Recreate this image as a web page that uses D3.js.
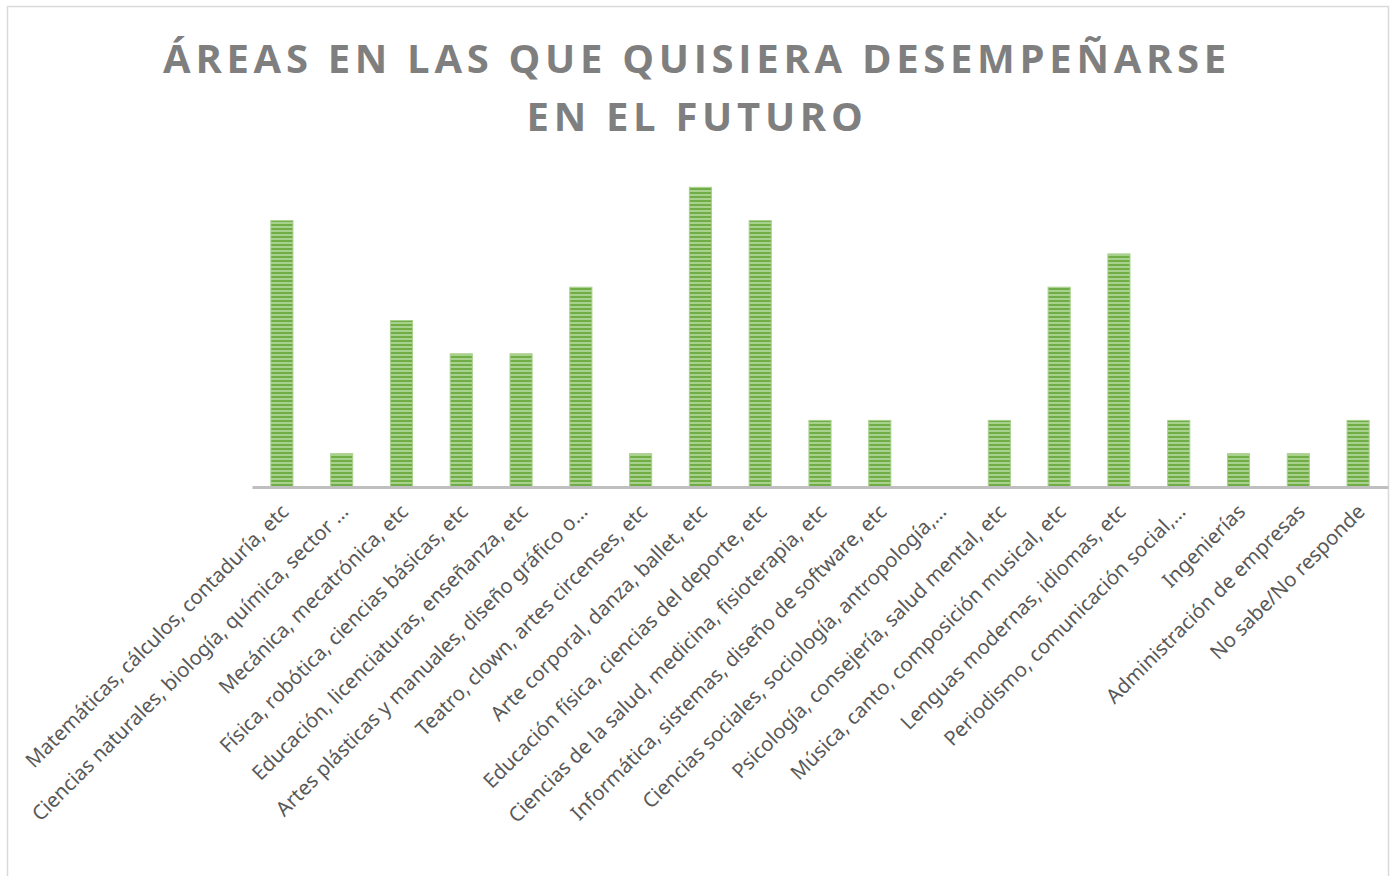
<!DOCTYPE html>
<html><head><meta charset="utf-8">
<script src="https://cdn.jsdelivr.net/npm/d3@7"></script>
<style>
html,body{margin:0;padding:0;background:#fff;}
svg{display:block;}
</style></head>
<body>
<script>
const categories = [
  "Matemáticas, cálculos, contaduría, etc",
  "Ciencias naturales, biología, química, sector …",
  "Mecánica, mecatrónica, etc",
  "Física, robótica, ciencias básicas, etc",
  "Educación, licenciaturas, enseñanza, etc",
  "Artes plásticas y manuales, diseño gráfico o…",
  "Teatro, clown, artes circenses, etc",
  "Arte corporal, danza, ballet, etc",
  "Educación física, ciencias del deporte, etc",
  "Ciencias de la salud, medicina, fisioterapia, etc",
  "Informática, sistemas, diseño de software, etc",
  "Ciencias sociales, sociología, antropología,…",
  "Psicología, consejería, salud mental, etc",
  "Música, canto, composición musical, etc",
  "Lenguas modernas, idiomas, etc",
  "Periodismo, comunicación social,…",
  "Ingenierías",
  "Administración de empresas",
  "No sabe/No responde"
];
const values = [8, 1, 5, 4, 4, 6, 1, 9, 8, 2, 2, 0, 2, 6, 7, 2, 1, 1, 2];
const titleLines = ["ÁREAS EN LAS QUE QUISIERA DESEMPEÑARSE", "EN EL FUTURO"];

const W = 1393, H = 876;
const svg = d3.select("body").append("svg").attr("width", W).attr("height", H);

// pattern
const defs = svg.append("defs");
const pat = defs.append("pattern").attr("id", "stripes")
  .attr("patternUnits", "userSpaceOnUse").attr("width", 8).attr("height", 4);
pat.append("rect").attr("width", 8).attr("height", 4).attr("fill", "#A9D18E");
pat.append("rect").attr("width", 8).attr("height", 2).attr("fill", "#70AD47");

// frame
svg.append("rect").attr("x", 7.5).attr("y", 6.5).attr("width", 1381).attr("height", 880)
  .attr("fill", "none").attr("stroke", "#D9D9D9").attr("stroke-width", 1.5);

// title
const title = svg.append("text").attr("text-anchor", "middle")
  .attr("font-family", "'Open Sans', sans-serif").attr("font-weight", 700)
  .attr("font-size", 40).attr("letter-spacing", 4.7).attr("fill", "#7F7F7F");
titleLines.forEach((t, i) => {
  title.append("tspan").attr("x", 697).attr("y", 73 + i * 58).text(t);
});

const x = d3.scaleBand().domain(categories).range([252, 1388]).paddingInner(0.63).paddingOuter(0.315);
const y = d3.scaleLinear().domain([0, 10]).range([487, 154]);

svg.append("g").selectAll("rect").data(values).join("rect")
  .attr("x", (d, i) => x(categories[i]))
  .attr("y", d => y(d))
  .attr("width", x.bandwidth())
  .attr("height", d => y(0) - y(d))
  .attr("fill", "url(#stripes)")
  .attr("stroke", "#A9D18E").attr("stroke-width", 1)
  .attr("display", d => d > 0 ? null : "none");

// axis
const ax = svg.append("g").attr("transform", `translate(0,${y(0)})`)
  .call(d3.axisBottom(x).tickSize(0).tickPadding(0));
ax.select(".domain").attr("stroke", "#BFBFBF").attr("stroke-width", 3);
ax.selectAll(".tick text")
  .attr("font-family", "'Noto Sans', sans-serif").attr("font-size", 20.3).attr("fill", "#595959")
  .attr("text-anchor", "end").attr("dy", 0)
  .attr("transform", "translate(8,26) rotate(-45)");
</script>
</body></html>
